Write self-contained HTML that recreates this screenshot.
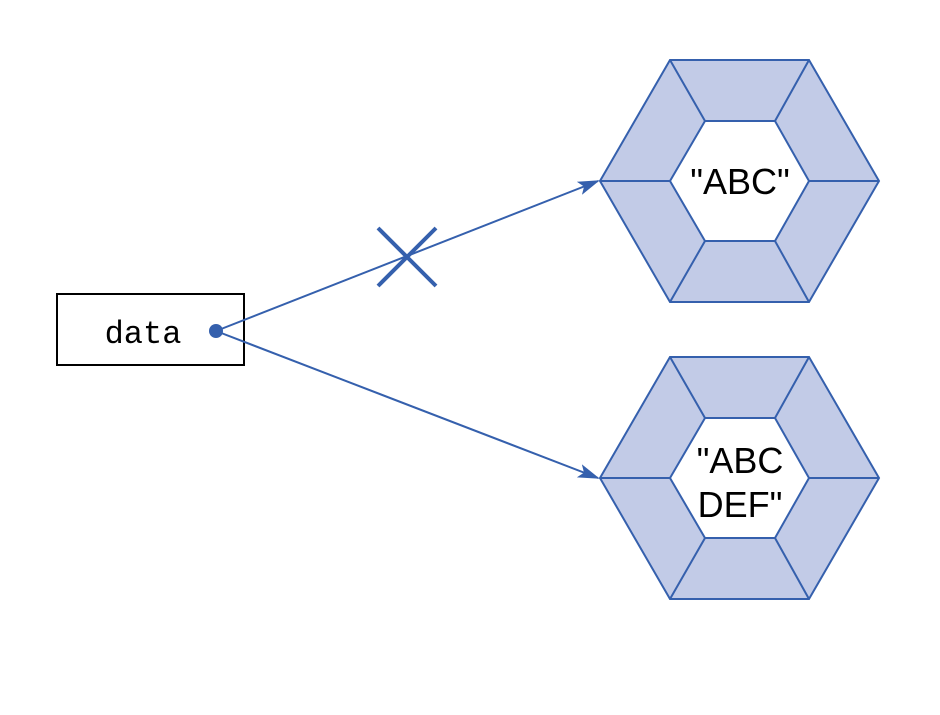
<!DOCTYPE html>
<html><head><style>body{margin:0;background:#fff}</style></head><body>
<svg width="940" height="710" xmlns="http://www.w3.org/2000/svg">
<defs><marker id="a" markerWidth="22" markerHeight="14" refX="20" refY="7" orient="auto" markerUnits="userSpaceOnUse"><path d="M0,0 L22,7 L0,14 L5,7 Z" fill="#3560ad"/></marker></defs>
<g stroke="#3560ad" stroke-width="2" fill="#c2cbe7">
<polygon points="600,181 670,60 809,60 879,181 809,302 670,302"/>
<polygon points="670,181 705,121 775,121 809,181 775,241 705,241" fill="#fff"/>
<path d="M600,181H670M670,60L705,121M809,60L775,121M879,181H809M809,302L775,241M670,302L705,241" fill="none"/>
<g transform="translate(0,297)">
<polygon points="600,181 670,60 809,60 879,181 809,302 670,302"/>
<polygon points="670,181 705,121 775,121 809,181 775,241 705,241" fill="#fff"/>
<path d="M600,181H670M670,60L705,121M809,60L775,121M879,181H809M809,302L775,241M670,302L705,241" fill="none"/>
</g>
</g>
<rect x="57" y="294" width="187" height="71" fill="#fff" stroke="#000" stroke-width="2"/>
<text x="143" y="343" font-family="Liberation Mono, monospace" font-size="32" text-anchor="middle">data</text>
<line x1="216" y1="331" x2="598" y2="181" stroke="#3560ad" stroke-width="2" marker-end="url(#a)"/>
<line x1="216" y1="331" x2="598" y2="478" stroke="#3560ad" stroke-width="2" marker-end="url(#a)"/>
<circle cx="216" cy="331" r="7" fill="#3560ad"/>
<path d="M378,228L436,286M436,228L378,286" stroke="#3560ad" stroke-width="4"/>
<g font-family="Liberation Sans, sans-serif" font-size="36" text-anchor="middle">
<text x="740" y="194">"ABC"</text>
<text x="740" y="473">"ABC</text>
<text x="740" y="517">DEF"</text>
</g>
</svg>
</body></html>
